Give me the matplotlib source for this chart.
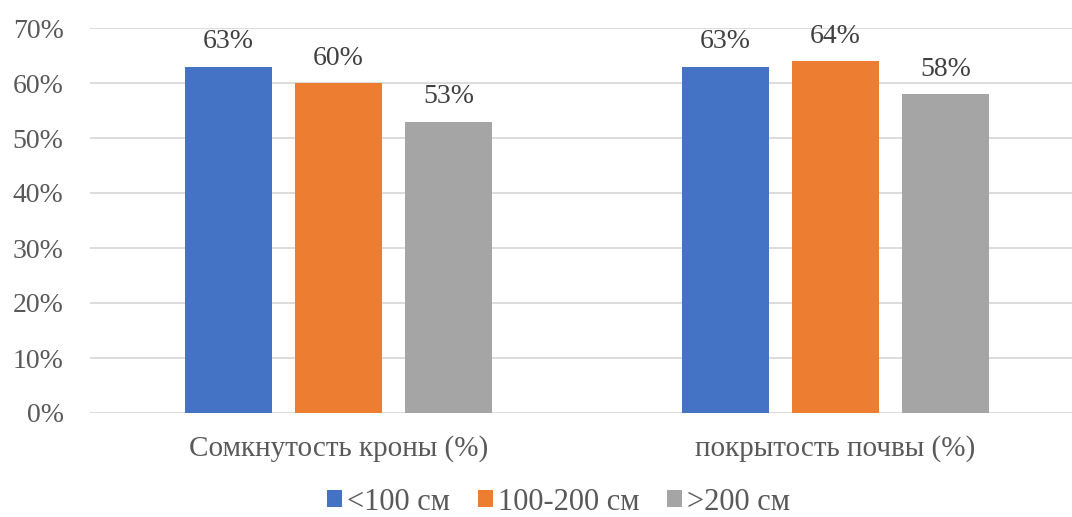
import matplotlib
matplotlib.use("Agg")
import matplotlib.pyplot as plt
import numpy as np

categories = ["Сомкнутость кроны (%)", "покрытость почвы (%)"]
series_names = ["<100 см", "100-200 см", ">200 см"]
values = [
    [0.63, 0.63],
    [0.60, 0.64],
    [0.53, 0.58],
]
colors = ["#4472C4", "#ED7D31", "#A5A5A5"]
yticks = [0, 0.1, 0.2, 0.3, 0.4, 0.5, 0.6, 0.7]

plt.rcParams['font.family'] = ['Liberation Serif', 'DejaVu Serif']

W, H = 1072, 517
fig = plt.figure(figsize=(W/100, H/100), dpi=100)
left = 90 / W
bottom = (H - 413) / H
height = (413 - 28) / H
width = (1084 - 90) / W
ax = fig.add_axes([left, bottom, width, height])

FS = 20
x = np.arange(len(categories))
offset = 110 / 497
bw = 87 / 497
txtc = "#595959"
for i, (name, vals, c) in enumerate(zip(series_names, values, colors)):
    pos = x + (i - 1) * offset
    bars = ax.bar(pos, vals, bw, color=c, label=name, zorder=3)
    for b, v in zip(bars, vals):
        ax.annotate(f"{round(v*100)}%", (b.get_x() + b.get_width()/2, v),
                    xytext=(0, 9), textcoords="offset points",
                    ha="center", va="bottom", fontsize=FS, color="#404040")

ax.set_xlim(-0.5, 1.5)
ax.set_ylim(0, 0.7)
ax.set_yticks(yticks)
ax.set_yticklabels([f"{round(t*100)}%" for t in yticks], fontsize=FS, color=txtc)
ax.set_xticks(x)
ax.set_xticklabels(categories, fontsize=21, color=txtc)
ax.tick_params(axis='both', length=0)
ax.tick_params(axis='x', pad=16)
ax.tick_params(axis='y', pad=19)
ax.grid(axis='y', color="#D9D9D9", linewidth=1.3, zorder=0)
for s in ax.spines.values():
    s.set_visible(False)

LFS = 22
leg = fig.legend(loc="center", bbox_to_anchor=(558.5/W, 1 - 502/H), ncol=3,
                 frameon=False, fontsize=LFS, handlelength=0.49, handleheight=0.49,
                 handletextpad=0.16, columnspacing=0.92, borderpad=0, borderaxespad=0)
for t in leg.get_texts():
    t.set_color(txtc)

fig.savefig("out.png", dpi=100)
